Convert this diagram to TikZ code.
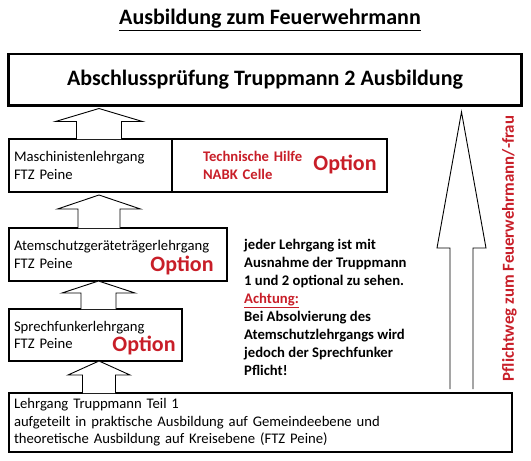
\documentclass[tikz,border=0pt]{standalone}
\usepackage{fontspec}
\setmainfont{Carlito}
\usetikzlibrary{calc}

\definecolor{optred}{RGB}{200,30,40}

\tikzset{
	course/.style={draw, line width=2.4pt, outer sep=0pt, anchor=north west,
		inner ysep=0pt, inner xsep=5pt, align=left,
		font=\fontsize{14.67}{17.5}\selectfont},
	option/.style={text=optred, font=\bfseries\fontsize{22}{24}\selectfont, inner sep=0pt},
	hollowarrow/.style={draw, line width=0.9pt, fill=white, line join=miter},
}

% hollow block arrow: base, tip, shaft half width, head half width, head length
\newcommand{\blockarrow}[5]{%
	\draw[hollowarrow] let \p1=(#1), \p2=(#2) in
		(\x1-#3pt,\y1) -- (\x1-#3pt,\y2-#5pt) -- (\x1-#4pt,\y2-#5pt) -- (\x1,\y2)
		-- (\x1+#4pt,\y2-#5pt) -- (\x1+#3pt,\y2-#5pt) -- (\x1+#3pt,\y1);
}

\begin{document}
\begin{tikzpicture}[x=1pt, y=-1pt]
	\useasboundingbox (0,0) rectangle (531,461);
	% title
	\node[font=\bfseries\fontsize{22}{24}\selectfont] (title) at (270,20) {\underline{Ausbildung zum Feuerwehrmann}};
	% final exam
	\node[course, align=center, minimum width=513pt, minimum height=51.5pt,
		font=\bfseries\fontsize{22}{24}\selectfont] (top) at (8.5,54) {Abschlussprüfung Truppmann 2 Ausbildung};
	% courses
	\node[course, minimum width=163pt, minimum height=53pt, text width=153pt] (masch) at (9,139) {Maschinistenlehrgang\\FTZ Peine};
	\node[course, minimum width=215pt, minimum height=53pt, text width=153pt, inner xsep=31pt,
		text=optred, font=\bfseries\fontsize{14.67}{17.5}\selectfont] (tech) at (masch.north east) {Technische Hilfe\\NABK Celle};
	\node[option] (tech-opt) at (345,164) {Option};
	\node[course, minimum width=218pt, minimum height=53pt, text width=208pt] (atem) at (9,228) {Atemschutzgeräteträgerlehrgang\\FTZ Peine};
	\node[option] (atem-opt) at (182,265) {Option};
	\node[course, minimum width=173pt, minimum height=52pt, text width=163pt] (sprech) at (9,309) {Sprechfunkerlehrgang\\FTZ Peine};
	\node[option] (sprech-opt) at (144,345) {Option};
	\node[course, minimum width=503pt, minimum height=59pt, text width=493pt] (lower) at (9,393) {Lehrgang Truppmann Teil 1\\aufgeteilt in praktische Ausbildung auf Gemeindeebene und\\theoretische Ausbildung auf Kreisebene (FTZ Peine)};
	% arrows between the courses
	\blockarrow{$(masch.north west)+(90,0)$}{$(top.south)+(0,3)$}{22.5}{43.5}{13}
	\blockarrow{$(atem.north west)+(90,0)$}{$(masch.south)+(0,3)$}{21}{41.5}{14}
	\blockarrow{$(sprech.north west)+(89.5,0)$}{atem.south}{17.5}{36.5}{12}
	\blockarrow{$(lower.north west)+(90,0)$}{sprech.south}{16.5}{31}{14}
	% mandatory path
	\blockarrow{$(lower.north west)+(452.5,-4)$}{$(top.south)+(0,6.5)$}{11.5}{24.5}{136}
	\node[rotate=90, text=optred, font=\bfseries\fontsize{16.8}{18}\selectfont] (duty) at (509.5,248.5) {Pflichtweg zum Feuerwehrmann/-frau};
	% note
	\node[anchor=north west, inner sep=0pt, align=left, font=\bfseries\fontsize{14.67}{18}\selectfont] (note) at (244,239)
		{jeder Lehrgang ist mit\\Ausnahme der Truppmann\\1 und 2 optional zu sehen.\\\textcolor{optred}{\underline{Achtung:}}\\Bei Absolvierung des\\Atemschutzlehrgangs wird\\jedoch der Sprechfunker\\Pflicht!};
\end{tikzpicture}
\end{document}
